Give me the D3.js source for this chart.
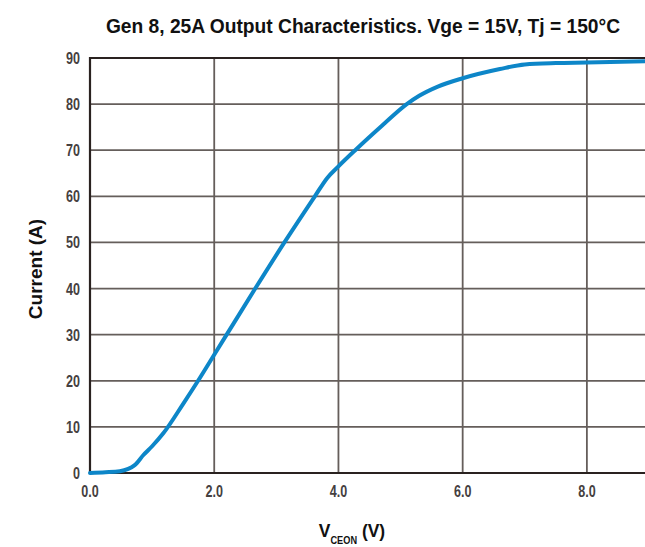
<!DOCTYPE html>
<html><head><meta charset="utf-8">
<script src="https://cdn.jsdelivr.net/npm/d3@7"></script>
<style>
body{margin:0;background:#fff;}
svg{display:block;}
</style></head>
<body><svg id="c" width="645" height="547"></svg>
<script>
const voltage = [0, 0.25, 0.48, 0.72, 0.86, 1.0, 1.18, 1.5, 1.74, 1.97, 2.2, 2.66, 3.13, 3.62, 3.82, 4.0, 4.27, 4.7, 5.1, 5.3, 5.6, 6.0, 6.6, 7.0, 7.5, 8.0, 9.0];
const current = [0, 0.15, 0.4, 1.7, 3.9, 5.8, 8.6, 15, 20, 25, 30, 40, 50, 60, 64, 66.5, 70, 75.3, 80, 81.8, 83.8, 85.6, 87.6, 88.6, 88.9, 89.0, 89.3];
const xTicks = [0, 2, 4, 6, 8];
const yTicks = [0, 10, 20, 30, 40, 50, 60, 70, 80, 90];
const titleText = "Gen 8, 25A Output Characteristics. Vge = 15V, Tj = 150°C";

const svg = d3.select("#c");
const font = "'Liberation Sans',Arial,sans-serif";
const x = d3.scaleLinear().domain([0, 9]).range([90, 649]);
const y = d3.scaleLinear().domain([0, 90]).range([473, 58]);

// grid
svg.append("g").selectAll("line").data(yTicks).join("line")
  .attr("x1", x(0)).attr("x2", 645).attr("y1", d => y(d)).attr("y2", d => y(d))
  .attr("stroke", "#655e5b").attr("stroke-width", 1.8);
svg.append("g").selectAll("line").data(xTicks.filter(d => d > 0)).join("line")
  .attr("x1", d => x(d)).attr("x2", d => x(d)).attr("y1", y(0)).attr("y2", y(90))
  .attr("stroke", "#655e5b").attr("stroke-width", 1.8);
// borders
svg.append("line").attr("x1", x(0)).attr("x2", x(0)).attr("y1", y(0) + 1).attr("y2", y(90) - 1)
  .attr("stroke", "#2a2220").attr("stroke-width", 2.2);
svg.append("line").attr("x1", x(0)).attr("x2", 645).attr("y1", y(0)).attr("y2", y(0))
  .attr("stroke", "#2a2220").attr("stroke-width", 2.2);
svg.append("line").attr("x1", x(0)).attr("x2", 645).attr("y1", y(90)).attr("y2", y(90))
  .attr("stroke", "#2a2220").attr("stroke-width", 2.2);

// curve
const pts = voltage.map((v, i) => [v, current[i]]);
svg.append("path").datum(pts)
  .attr("fill", "none").attr("stroke", "#0d86c8").attr("stroke-width", 4)
  .attr("stroke-linejoin", "round").attr("stroke-linecap", "round")
  .attr("d", d3.line().x(d => x(d[0])).y(d => y(d[1])).curve(d3.curveMonotoneX));

// condensed text helper
function ctext(cx, cy, anchor, size, weight, fill, sx, rot) {
  return svg.append("text")
    .attr("transform", `translate(${cx},${cy}) rotate(${rot || 0}) scale(${sx},1)`)
    .attr("text-anchor", anchor).attr("font-family", font).attr("font-weight", weight)
    .attr("font-size", size).attr("fill", fill);
}

// tick labels
yTicks.forEach(d => ctext(80, y(d) + 6, "end", 17, "bold", "#454040", 0.74).text(d));
xTicks.forEach(d => ctext(x(d), 497, "middle", 17, "bold", "#454040", 0.74).text(d.toFixed(1)));

// title
ctext(363, 33, "middle", 21, "bold", "#111", 0.915).text(titleText);

// y label
ctext(42, 269, "middle", 19, "bold", "#111", 1.0, -90).text("Current (A)");

// x label
const xl = ctext(352, 537, "middle", 19, "bold", "#111", 0.92);
xl.append("tspan").text("V");
xl.append("tspan").attr("font-size", 10).attr("dy", 7).text("CEON");
xl.append("tspan").attr("dy", -7).text(" (V)");
</script></body></html>
